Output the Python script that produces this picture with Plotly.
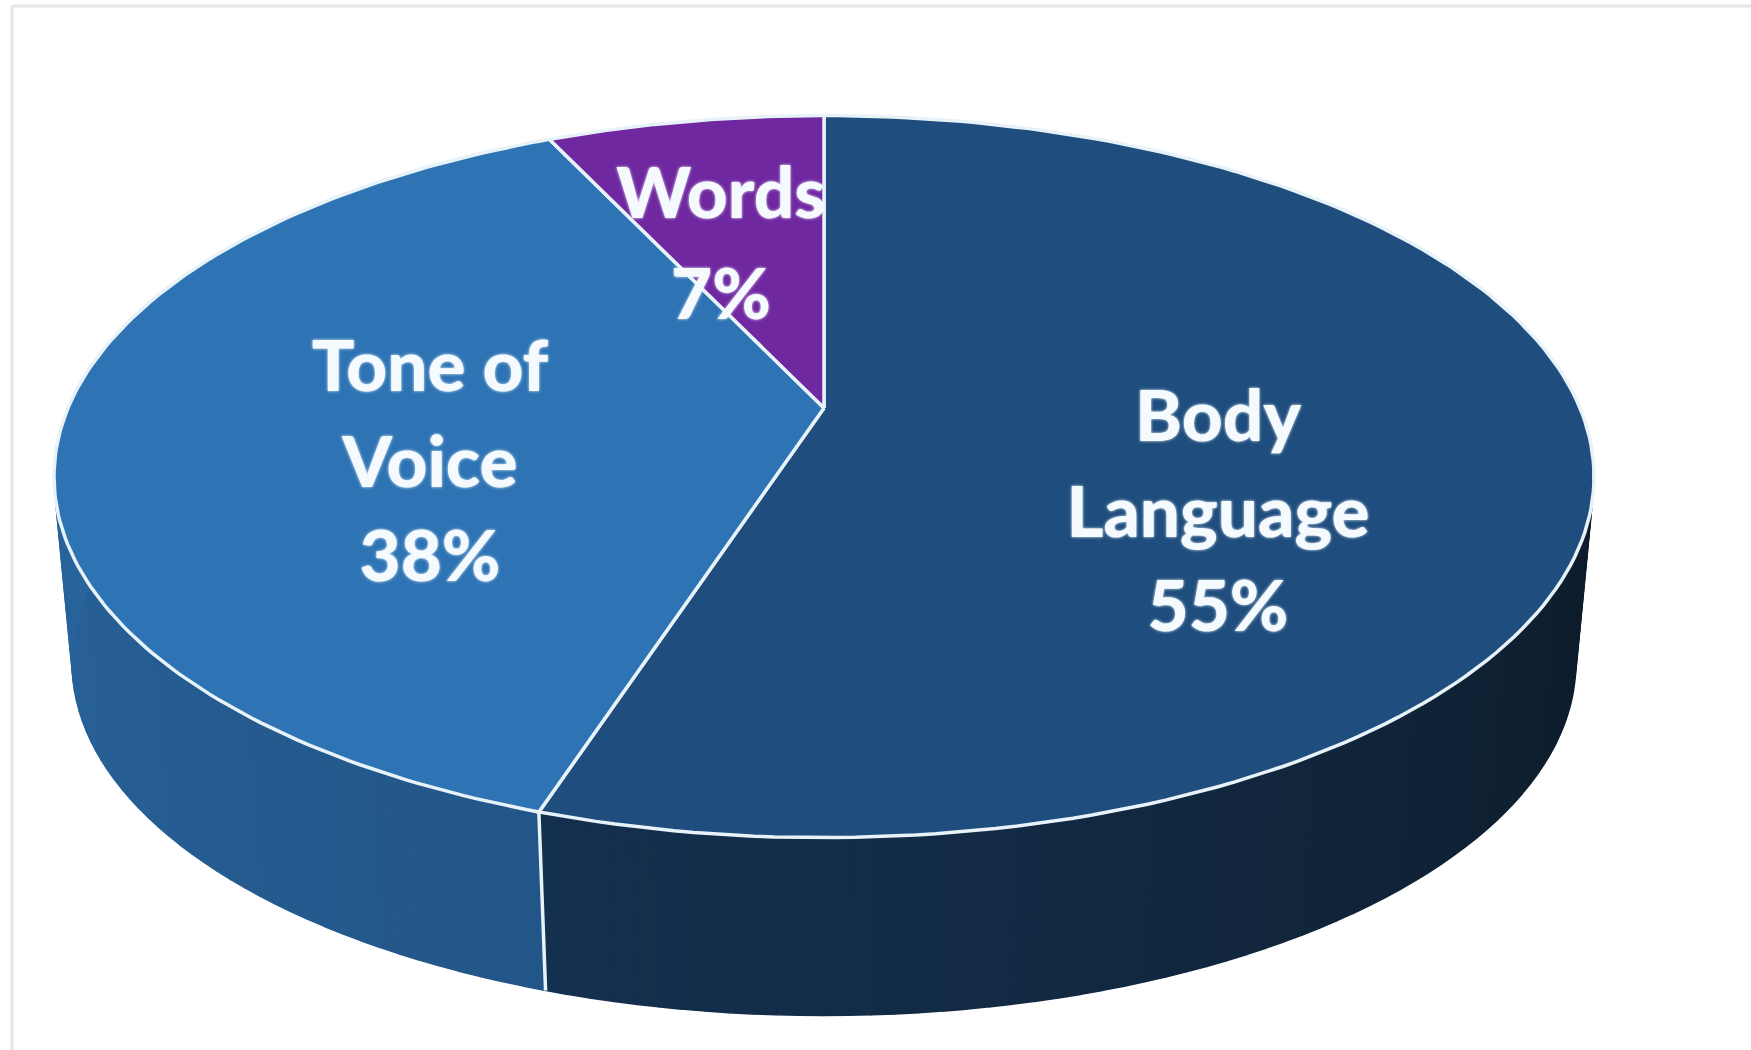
import numpy as np
import plotly.graph_objects as go

# ---- data ----
categories = ["Body Language", "Tone of Voice", "Words"]
values = [55, 38, 7]
label_lines = [["Body", "Language"], ["Tone of", "Voice"], ["Words"]]

# ---- style ----
top_colors = ["#1F4E7E", "#2E74B5", "#7028A0"]
side_from = ["#14304F", "#235688", "#5A2080"]
side_to = ["#0E1D2C", "#2B6AA6", "#5A2080"]
edge = "#E8F2F9"
W, H = 1751, 1050

# projective view of the pie's top disc
CX, CY, RX, RY, PERSP = 824.0, 408.0, 756.0, 348.0, 0.19
VANISH_Y, DEPTH = 8375.0, 0.0236


def rim(theta):
    t = np.radians(theta)
    x, y = np.sin(t), np.cos(t)
    w = 1 + PERSP * y
    return CX + RX * x / w, CY - RY * y / w


def lower(px, py):
    return px + (CX - px) * DEPTH, py + (VANISH_Y - py) * DEPTH


def hex2rgb(c):
    return np.array([int(c[i:i + 2], 16) for i in (1, 3, 5)], float)


def mix(a, b, f):
    r = hex2rgb(a) * (1 - f) + hex2rgb(b) * f
    return "rgb(%d,%d,%d)" % tuple(r.round())


fig = go.Figure()
edges = np.concatenate([[0], np.cumsum(values) / np.sum(values) * 360])

# side wall, built as thin strips for the gradient
for i in range(len(values)):
    a0, a1 = edges[i], edges[i + 1]
    lo, hi = max(a0, 60), min(a1, 300)
    if hi <= lo:
        continue
    n = max(2, int((hi - lo) / 1.5))
    steps = np.linspace(lo, hi, n + 1)
    for j in range(n):
        t = np.linspace(steps[j], steps[j + 1], 4)
        x, y = rim(t)
        xb, yb = lower(x, y)
        f = ((steps[j] + steps[j + 1]) / 2 - lo) / (hi - lo)
        # the dark wall reaches its deepest shade well before the right edge
        shade = min(1.0, (1 - f) * 1.6) if i == 0 else f
        c = mix(side_from[i], side_to[i], shade)
        fig.add_trace(go.Scatter(
            x=np.r_[x, xb[::-1]], y=np.r_[y, yb[::-1]], mode="lines",
            fill="toself", fillcolor=c, line=dict(color=c, width=1.5),
            hoverinfo="skip", showlegend=False))

# vertical edge where slices meet on the wall
sx, sy = rim(edges[1])
bx, by = lower(sx, sy)
fig.add_trace(go.Scatter(x=[sx, bx], y=[sy, by], mode="lines",
                         line=dict(color=edge, width=3.5),
                         hoverinfo="skip", showlegend=False))

# top face
for i in range(len(values)):
    t = np.linspace(edges[i], edges[i + 1], 160)
    x, y = rim(t)
    fig.add_trace(go.Scatter(
        x=np.r_[CX, x, CX], y=np.r_[CY, y, CY], mode="lines",
        fill="toself", fillcolor=top_colors[i],
        line=dict(color=edge, width=3.5),
        name=categories[i], hoverinfo="name", showlegend=False))

# labels: one text mark per line
label_x = [1218, 430, 721]
label_y = [[423, 519, 613], [373, 469, 563], [200, 301]]
for i, lines in enumerate(label_lines):
    texts = lines + ["%d%%" % values[i]]
    fig.add_trace(go.Scatter(
        x=[label_x[i]] * len(texts), y=label_y[i], text=texts, mode="text",
        textposition="middle center",
        textfont=dict(family="Lato", size=71, color="#F4FAFE", weight=900,
                      shadow="0 0 3px #F4FAFE"),
        hoverinfo="skip", showlegend=False))

fig.update_layout(
    width=W, height=H, margin=dict(l=0, r=0, t=0, b=0),
    paper_bgcolor="white", plot_bgcolor="white", showlegend=False,
    xaxis=dict(range=[0, W], visible=False, fixedrange=True),
    yaxis=dict(range=[H, 0], visible=False, fixedrange=True),
    shapes=[
        dict(type="line", xref="paper", yref="paper", x0=12 / W, x1=1, y0=1 - 6 / H, y1=1 - 6 / H,
             line=dict(color="#E6E6E6", width=3)),
        dict(type="line", xref="paper", yref="paper", x0=12 / W, x1=12 / W, y0=0, y1=1 - 6 / H,
             line=dict(color="#E6E6E6", width=3)),
    ],
)
fig.write_html("out.html", config={"displayModeBar": False},
               post_script="document.body.style.margin='0';")
